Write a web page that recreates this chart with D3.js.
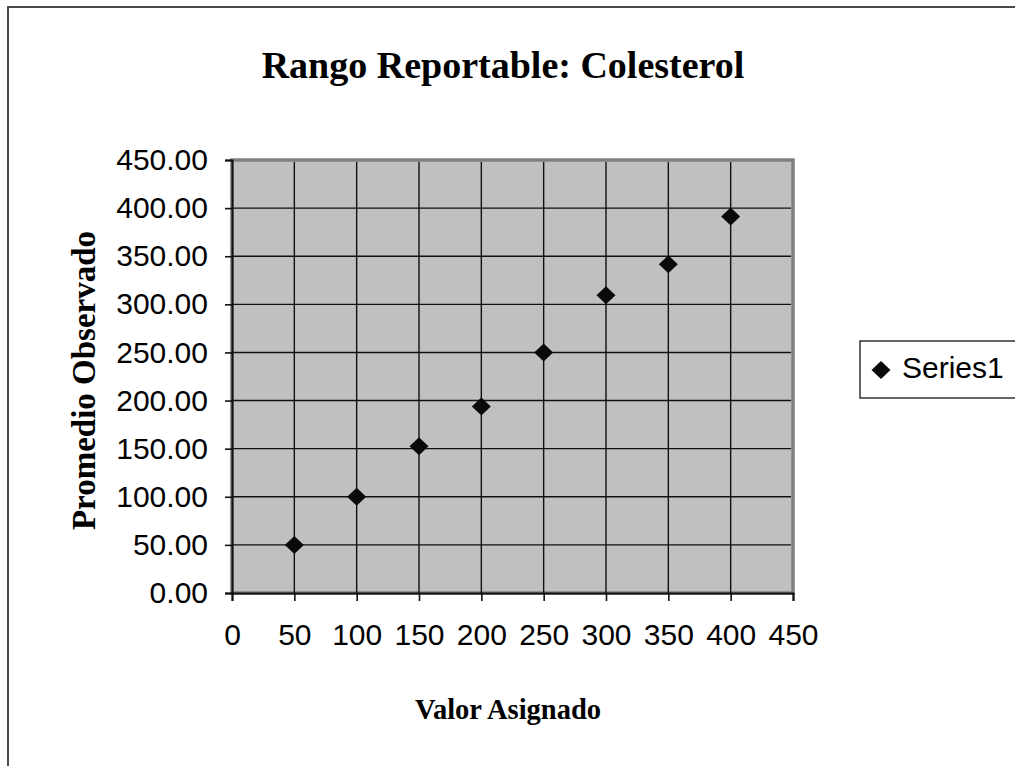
<!DOCTYPE html>
<html>
<head>
<meta charset="utf-8">
<script src="https://cdn.jsdelivr.net/npm/d3@7"></script>
<style>
  html, body { margin: 0; padding: 0; background: #fff; }
  svg { display: block; }
</style>
</head>
<body>
<svg id="chart" width="1015" height="766"></svg>
<script>
// Reportable range data: assigned value vs. observed mean
const assignedValues = [50, 100, 150, 200, 250, 300, 350, 400];
const observedMeans = [50, 100, 152.4, 193.7, 250, 309.4, 341.7, 391.3];
const xTicks = [0, 50, 100, 150, 200, 250, 300, 350, 400, 450];
const yTicks = [0, 50, 100, 150, 200, 250, 300, 350, 400, 450];
const seriesName = "Series1";

const svg = d3.select("#chart");
const plot = { left: 232, right: 793, top: 160, bottom: 593 };

const x = d3.scaleLinear().domain([0, 450]).range([plot.left, plot.right]);
const y = d3.scaleLinear().domain([0, 450]).range([plot.bottom, plot.top]);

// chart area frame
svg.append("rect")
  .attr("x", 8).attr("y", 7)
  .attr("width", 1100).attr("height", 900)
  .attr("fill", "#fff")
  .attr("stroke", "#4a4a4a").attr("stroke-width", 2);

// title
svg.append("text")
  .attr("x", 503).attr("y", 78)
  .attr("text-anchor", "middle")
  .attr("font-family", "'Liberation Serif', 'Times New Roman', serif")
  .attr("font-weight", "bold")
  .attr("font-size", 38)
  .text("Rango Reportable: Colesterol");

// plot area background with gray frame
svg.append("rect")
  .attr("x", plot.left).attr("y", plot.top)
  .attr("width", plot.right - plot.left).attr("height", plot.bottom - plot.top)
  .attr("fill", "#c0c0c0")
  .attr("stroke", "#808080").attr("stroke-width", 3.5);

// gridlines
const grid = svg.append("g").attr("stroke", "#111").attr("stroke-width", 1.4);
grid.selectAll("line.h").data(yTicks.filter(d => d > 0 && d < 450)).enter().append("line")
  .attr("x1", plot.left).attr("x2", plot.right - 2)
  .attr("y1", d => y(d)).attr("y2", d => y(d));
grid.selectAll("line.v").data(xTicks.filter(d => d > 0 && d < 450)).enter().append("line")
  .attr("y1", plot.top + 2).attr("y2", plot.bottom)
  .attr("x1", d => x(d)).attr("x2", d => x(d));

// axes
const font = "'Liberation Sans', Arial, sans-serif";
const yAxis = d3.axisLeft(y).tickValues(yTicks).tickSizeOuter(0).tickSize(7).tickPadding(17)
  .tickFormat(d3.format(".2f"));
const gy = svg.append("g").attr("transform", `translate(${plot.left},0)`).call(yAxis);
const xAxis = d3.axisBottom(x).tickValues(xTicks).tickSizeOuter(0).tickSize(8).tickPadding(23)
  .tickFormat(d3.format("d"));
const gx = svg.append("g").attr("transform", `translate(0,${plot.bottom})`).call(xAxis);

[gx, gy].forEach(g => {
  g.select(".domain").attr("stroke", "#111").attr("stroke-width", 2);
  g.selectAll(".tick line").attr("stroke", "#111").attr("stroke-width", 1.6);
  g.selectAll(".tick text")
    .attr("fill", "#000")
    .attr("font-family", font)
    .attr("font-size", 30);
});

// axis titles
svg.append("text")
  .attr("x", 508).attr("y", 719)
  .attr("text-anchor", "middle")
  .attr("font-family", "'Liberation Serif', 'Times New Roman', serif")
  .attr("font-weight", "bold")
  .attr("font-size", 28.5)
  .text("Valor Asignado");

svg.append("text")
  .attr("transform", `translate(95, ${(plot.top + plot.bottom) / 2 + 4}) rotate(-90)`)
  .attr("text-anchor", "middle")
  .attr("font-family", "'Liberation Serif', 'Times New Roman', serif")
  .attr("font-weight", "bold")
  .attr("font-size", 33)
  .text("Promedio Observado");

// diamond marker
function diamond(hw, hh) {
  const p = d3.path();
  p.moveTo(0, -hh); p.lineTo(hw, 0); p.lineTo(0, hh); p.lineTo(-hw, 0); p.closePath();
  return p.toString();
}

svg.append("g").selectAll("path")
  .data(assignedValues.map((v, i) => [v, observedMeans[i]]))
  .enter().append("path")
  .attr("d", diamond(9.5, 9))
  .attr("transform", d => `translate(${x(d[0])},${y(d[1])})`)
  .attr("fill", "#0a0a0a");

// legend
const legend = svg.append("g").attr("transform", "translate(860,341)");
legend.append("rect")
  .attr("x", 0).attr("y", 0).attr("width", 200).attr("height", 57)
  .attr("fill", "#fff").attr("stroke", "#333").attr("stroke-width", 1.5);
legend.append("path")
  .attr("d", diamond(9.5, 9))
  .attr("transform", "translate(21,29)")
  .attr("fill", "#0a0a0a");
legend.append("text")
  .attr("x", 42).attr("y", 37)
  .attr("font-family", font)
  .attr("font-size", 30)
  .text(seriesName);
</script>
</body>
</html>
